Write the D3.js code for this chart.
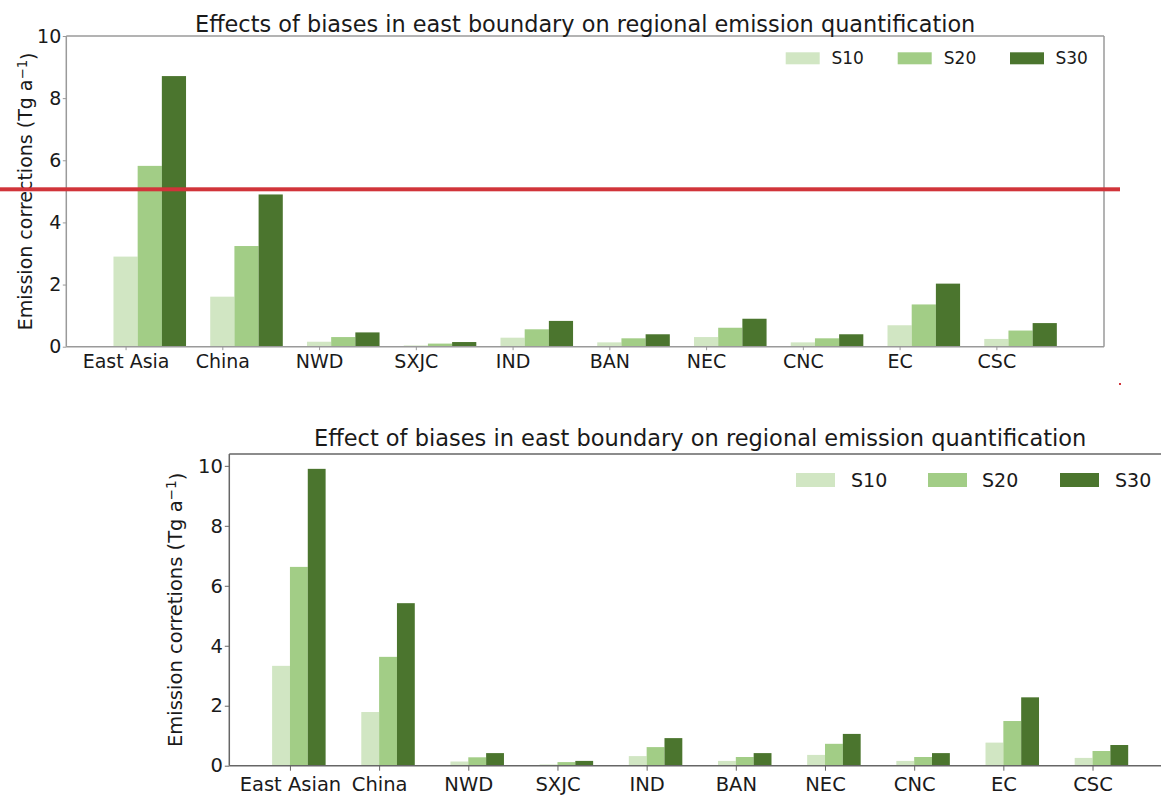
<!DOCTYPE html>
<html>
<head>
<meta charset="utf-8">
<script src="https://cdn.jsdelivr.net/npm/d3@7"></script>
<style>
  html, body { margin: 0; padding: 0; background: #fff; }
  svg { display: block; font-family: "DejaVu Sans", sans-serif; }
</style>
</head>
<body>
<svg id="chart" width="1161" height="809"></svg>
<script>
// ---------- data ----------
const seriesNames = ["S10", "S20", "S30"];
const seriesColors = ["#d1e6c3", "#a2cd86", "#4b752e"];

const topCategories = ["East Asia", "China", "NWD", "SXJC", "IND", "BAN", "NEC", "CNC", "EC", "CSC"];
const topS10 = [2.90, 1.61, 0.16, 0.04, 0.29, 0.14, 0.31, 0.14, 0.69, 0.25];
const topS20 = [5.82, 3.24, 0.31, 0.10, 0.56, 0.27, 0.61, 0.27, 1.36, 0.52];
const topS30 = [8.71, 4.90, 0.46, 0.15, 0.83, 0.40, 0.90, 0.40, 2.03, 0.76];
const topTitle = "Effects of biases in east boundary on regional emission quantification";
const topYLabel = "Emission corrections (Tg a";

const bottomCategories = ["East Asian", "China", "NWD", "SXJC", "IND", "BAN", "NEC", "CNC", "EC", "CSC"];
const bottomS10 = [3.33, 1.79, 0.14, 0.04, 0.32, 0.16, 0.36, 0.16, 0.77, 0.26];
const bottomS20 = [6.63, 3.63, 0.28, 0.12, 0.62, 0.29, 0.73, 0.29, 1.49, 0.49];
const bottomS30 = [9.90, 5.42, 0.42, 0.16, 0.92, 0.42, 1.06, 0.42, 2.28, 0.69];
const bottomTitle = "Effect of biases in east boundary on regional emission quantification";
const bottomYLabel = "Emission corretions (Tg a";

const yTicks = [0, 2, 4, 6, 8, 10];

const svg = d3.select("#chart");
svg.append("rect").attr("width", 1161).attr("height", 809).attr("fill", "#fff");

function drawPanel(cfg) {
  const g = svg.append("g");
  const x = d3.scaleLinear().domain(cfg.xDomain).range([cfg.left, cfg.right]);
  const y = d3.scaleLinear().domain(cfg.yDomain).range([cfg.bottom, cfg.top]);
  const series = [cfg.s10, cfg.s20, cfg.s30];

  series.forEach((vals, k) => {
    g.append("g").selectAll("rect").data(vals).join("rect")
      .attr("x", (d, i) => x(i + cfg.offset(k)))
      .attr("width", x(cfg.barW) - x(0))
      .attr("y", d => y(d))
      .attr("height", d => y(0) - y(d))
      .attr("fill", seriesColors[k]);
  });

  // spines
  const sp = g.append("g").attr("stroke", cfg.spineColor).attr("stroke-width", 1.5).attr("fill", "none");
  sp.append("line").attr("x1", cfg.left).attr("x2", cfg.left).attr("y1", cfg.top).attr("y2", cfg.bottom);
  sp.append("line").attr("x1", cfg.left).attr("x2", cfg.right).attr("y1", cfg.top).attr("y2", cfg.top);
  sp.append("line").attr("x1", cfg.left).attr("x2", cfg.right).attr("y1", cfg.bottom).attr("y2", cfg.bottom);
  sp.append("line").attr("x1", cfg.right).attr("x2", cfg.right).attr("y1", cfg.top).attr("y2", cfg.bottom);

  // axes
  const xAxis = d3.axisBottom(x).tickValues(d3.range(cfg.categories.length))
    .tickFormat(i => cfg.categories[i]).tickSize(cfg.xTickSize).tickPadding(cfg.xPad);
  const gx = g.append("g").attr("transform", `translate(0,${cfg.bottom})`).call(xAxis);
  gx.select(".domain").remove();
  gx.selectAll("line").attr("stroke", cfg.spineColor).attr("stroke-width", 1);
  gx.selectAll("text").attr("font-size", cfg.tickFont).attr("fill", "#1a1a1a")
    .attr("font-family", "DejaVu Sans");

  const yAxis = d3.axisLeft(y).tickValues(yTicks).tickFormat(d3.format("d"))
    .tickSize(cfg.yTickSize).tickPadding(cfg.yPad);
  const gy = g.append("g").attr("transform", `translate(${cfg.left},0)`).call(yAxis);
  gy.select(".domain").remove();
  gy.selectAll("line").attr("stroke", cfg.spineColor).attr("stroke-width", 1);
  gy.selectAll("text").attr("font-size", cfg.tickFont).attr("fill", "#1a1a1a")
    .attr("font-family", "DejaVu Sans");

  // title
  g.append("text").attr("x", (cfg.left + cfg.right) / 2 + cfg.titleDx).attr("y", cfg.titleY)
    .attr("text-anchor", "middle").attr("font-size", cfg.titleFont).attr("fill", "#1a1a1a")
    .text(cfg.title);

  // y label
  const yl = g.append("text")
    .attr("transform", `translate(${cfg.yLabelX},${(cfg.top + cfg.bottom) / 2}) rotate(-90)`)
    .attr("text-anchor", "middle").attr("font-size", cfg.tickFont).attr("fill", "#1a1a1a");
  yl.append("tspan").text(cfg.yLabel);
  yl.append("tspan").attr("dy", "-0.42em").attr("font-size", cfg.tickFont * 0.7).text("\u22121");
  yl.append("tspan").attr("dy", "0.42em").text(")");

  // legend
  const lg = g.append("g");
  seriesNames.forEach((name, k) => {
    lg.append("rect").attr("x", cfg.legX[k]).attr("y", cfg.legY - cfg.legH / 2)
      .attr("width", cfg.legW).attr("height", cfg.legH).attr("fill", seriesColors[k]);
    lg.append("text").attr("x", cfg.legTextX[k]).attr("y", cfg.legY)
      .attr("dy", "0.36em").attr("font-size", cfg.legFont).attr("fill", "#1a1a1a").text(name);
  });
}

drawPanel({
  categories: topCategories, s10: topS10, s20: topS20, s30: topS30,
  xDomain: [-0.6125, 10.1125], yDomain: [0, 10],
  left: 66.3, right: 1104, top: 36, bottom: 346.7,
  barW: 0.25, offset: k => k * 0.25 - 0.125,
  spineColor: "#9a9a9a", tickFont: 19, xTickSize: 3.5, xPad: 4.5, yTickSize: 3.5, yPad: 1.5,
  title: topTitle, titleY: 31.7, titleFont: 22.4, titleDx: 0,
  yLabel: topYLabel, yLabelX: 32.3,
  legX: [785.7, 897.7, 1010], legTextX: [831.5, 943.8, 1055.5], legY: 58.3, legW: 34, legH: 12, legFont: 17
});

drawPanel({
  categories: bottomCategories, s10: bottomS10, s20: bottomS20, s30: bottomS30,
  xDomain: [-0.68, 9.88], yDomain: [0, 10.395],
  left: 229.3, right: 1171, top: 454, bottom: 765.7,
  barW: 0.2, offset: k => (k - 1) * 0.2,
  spineColor: "#666", tickFont: 19.5, xTickSize: 5, xPad: 6, yTickSize: 4.5, yPad: 2,
  title: bottomTitle, titleY: 446, titleFont: 22.5, titleDx: 0,
  yLabel: bottomYLabel, yLabelX: 181.7,
  legX: [796, 928, 1060], legTextX: [851, 982, 1115], legY: 480, legW: 39, legH: 14, legFont: 19
});

// red annotation line across the top panel
svg.append("rect").attr("x", 0).attr("y", 187.3).attr("width", 1120).attr("height", 4).attr("fill", "#d1343a");
svg.append("rect").attr("x", 1119).attr("y", 383).attr("width", 2).attr("height", 2).attr("fill", "#d1343a");
</script>
</body>
</html>
